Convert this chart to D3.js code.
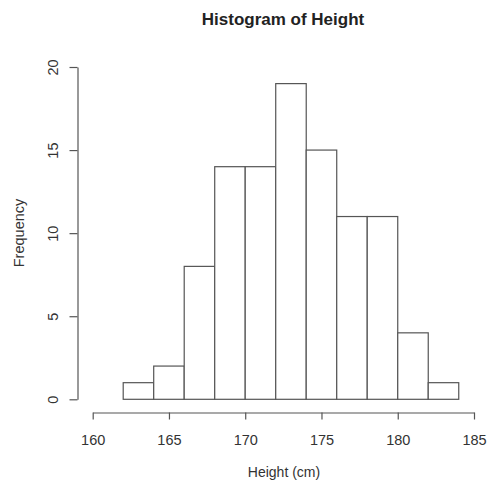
<!DOCTYPE html>
<html>
<head>
<meta charset="utf-8">
<script src="https://cdn.jsdelivr.net/npm/d3@7"></script>
<style>
  body { margin: 0; background: #fff; }
  text { font-family: "Liberation Sans", Arial, sans-serif; fill: #333; }
</style>
</head>
<body>
<div class="chart"></div>
<script>
// Histogram bins (cm) and counts
var binStart = [162, 164, 166, 168, 170, 172, 174, 176, 178, 180, 182];
var binEnd   = [164, 166, 168, 170, 172, 174, 176, 178, 180, 182, 184];
var counts   = [1, 2, 8, 14, 14, 19, 15, 11, 11, 4, 1];

var xTicks = [160, 165, 170, 175, 180, 185];
var yTicks = [0, 5, 10, 15, 20];

var svgWidth = 487;
var svgHeight = 482;

var svg = d3.select(".chart")
  .append("svg")
  .attr("width", svgWidth)
  .attr("height", svgHeight);

var xScale = d3.scaleLinear()
  .domain([160, 185])
  .range([92.7, 474]);

var yScale = d3.scaleLinear()
  .domain([0, 20])
  .range([399.3, 67]);

var lineColor = "#555";

// bars
svg.selectAll("rect.bar")
  .data(counts)
  .enter()
  .append("rect")
  .attr("class", "bar")
  .attr("x", (d, i) => xScale(binStart[i]))
  .attr("y", d => yScale(d))
  .attr("width", (d, i) => xScale(binEnd[i]) - xScale(binStart[i]))
  .attr("height", d => yScale(0) - yScale(d))
  .attr("fill", "#fff")
  .attr("stroke", lineColor)
  .attr("stroke-width", 1.2);

// x axis
var bottomAxis = d3.axisBottom(xScale)
  .tickValues(xTicks)
  .tickSize(7)
  .tickPadding(15)
  .tickSizeOuter(0);

var xAxis = svg.append("g")
  .attr("transform", "translate(0, 412.5)")
  .call(bottomAxis);

// y axis
var leftAxis = d3.axisLeft(yScale)
  .tickValues(yTicks)
  .tickSize(8)
  .tickPadding(10)
  .tickSizeOuter(0);

var yAxis = svg.append("g")
  .attr("transform", "translate(77.5, 0)")
  .call(leftAxis);

[xAxis, yAxis].forEach(function(ax) {
  ax.select(".domain").attr("stroke", lineColor).attr("stroke-width", 1.2);
  ax.selectAll(".tick line").attr("stroke", lineColor).attr("stroke-width", 1.2);
  ax.selectAll("text")
    .style("font-family", "'Liberation Sans', Arial, sans-serif")
    .style("font-size", "14.5px")
    .attr("fill", "#333");
});

// rotate y tick labels like R's default
yAxis.selectAll(".tick text")
  .attr("x", null)
  .attr("text-anchor", "middle")
  .attr("transform", "translate(-24.5, 0) rotate(-90)")
  .attr("dy", "0.35em");

// title and labels
svg.append("text")
  .attr("x", 283)
  .attr("y", 25)
  .attr("text-anchor", "middle")
  .style("font-size", "17px")
  .style("font-weight", "bold")
  .style("fill", "#222")
  .text("Histogram of Height");

svg.append("text")
  .attr("x", 284)
  .attr("y", 477)
  .attr("text-anchor", "middle")
  .style("font-size", "14px")
  .text("Height (cm)");

svg.append("text")
  .attr("transform", "translate(24, 233) rotate(-90)")
  .attr("text-anchor", "middle")
  .style("font-size", "14.5px")
  .text("Frequency");
</script>
</body>
</html>
